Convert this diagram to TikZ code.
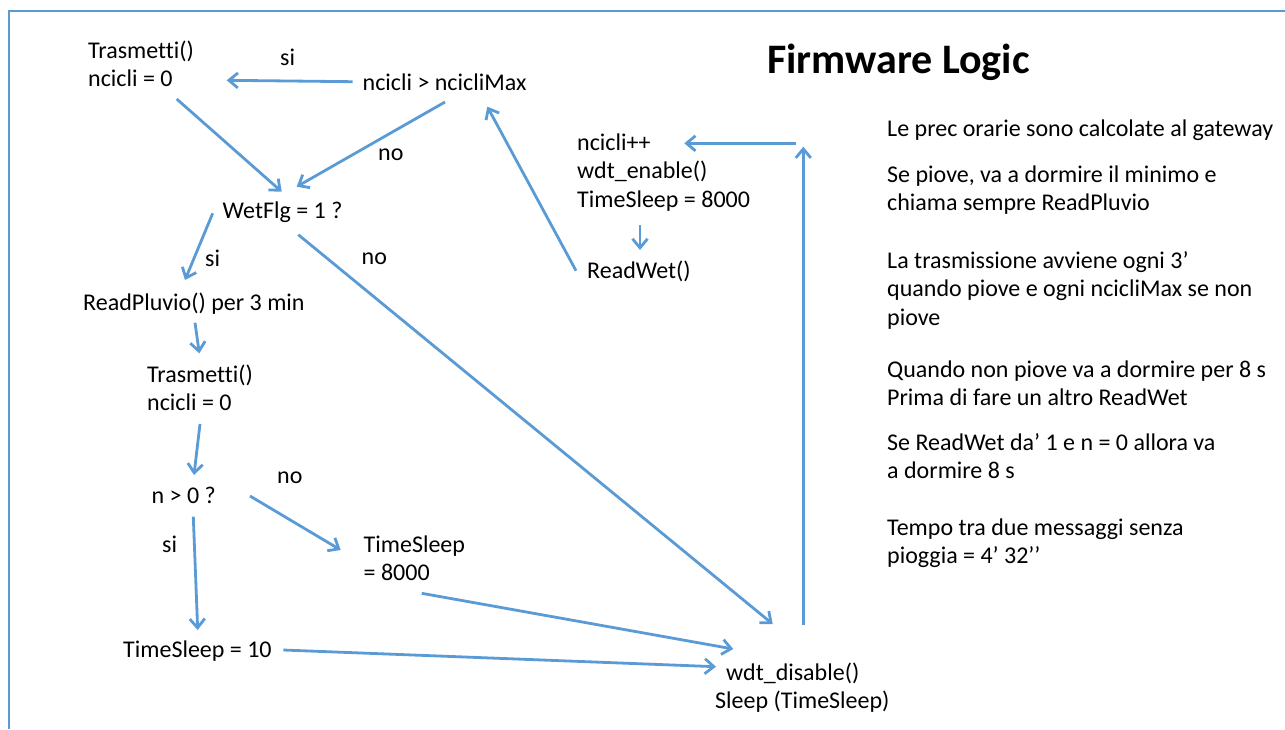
\documentclass[tikz,border=0pt]{standalone}
\usepackage{fontspec}
\setmainfont{Carlito}[Ligatures=CommonOff]
\usetikzlibrary{arrows.meta}

\definecolor{flowblue}{HTML}{5B9BD5}
\newcommand{\txtlines}[1]{\begin{tabular}[t]{@{}l@{}}#1\end{tabular}}

\begin{document}
\begin{tikzpicture}[x=1pt, y=-1pt,
    txt/.style={anchor=base west, inner sep=0pt, text=black,
                font=\fontsize{24}{28.5}\selectfont},
    flow/.style={draw=flowblue, line width=2.8pt,
                 -{Straight Barb[length=9pt,width=15pt]}}]

    \useasboundingbox (0,0) rectangle (1285,729);

    % === FRAME ===
    \draw[flowblue, line width=1.6pt] (9,729) -- (9,11) -- (1285,11);

    % === TITLE ===
    \node[txt, font=\fontsize{42}{50}\selectfont\bfseries] (title) at (767,73) {Firmware Logic};

    % === FLOW NODES ===
    \node[txt] (trasm1) at (88,58)    {\txtlines{Trasmetti()\\ncicli = 0}};
    \node[txt] (cmax)   at (362.5,90) {ncicli > ncicliMax};
    \node[txt] (wet)    at (222.5,218){WetFlg = 1 ?};
    \node[txt] (pluv)   at (83,310)   {ReadPluvio() per 3 min};
    \node[txt] (trasm2) at (147,382)  {\txtlines{Trasmetti()\\ncicli = 0}};
    \node[txt] (npos)   at (151.5,503){n > 0 ?};
    \node[txt] (sleepA) at (363.5,552){\txtlines{TimeSleep\\= 8000}};
    \node[txt] (sleepB) at (123,657)  {TimeSleep = 10};
    \node[txt] (wdtoff) at (715,680)  {\txtlines{\hspace{11pt}wdt\_disable()\\Sleep (TimeSleep)}};
    \node[txt] (wdton)  at (577,150)  {\txtlines{ncicli++\\wdt\_enable()\\TimeSleep = 8000}};
    \node[txt] (rwet)   at (587,278)  {ReadWet()};
    \coordinate (corner) at (803.3,143.3);

    % === BRANCH LABELS ===
    \node[txt] (si1) at (280,65)    {si};
    \node[txt] (no1) at (378,160)   {no};
    \node[txt] (si2) at (205,266)   {si};
    \node[txt] (no2) at (361.5,264) {no};
    \node[txt] (no3) at (277,483)   {no};
    \node[txt] (si3) at (162,552)   {si};

    % === CONNECTORS ===
    \draw[flow] ([shift={(-9.8,-8.3)}]cmax.base west) -- ([shift={(138.7,22.3)}]trasm1.base west);
    \draw[flow] ([shift={(88.7,41)}]trasm1.base west) -- ([shift={(59.2,-26.3)}]wet.base west);
    \draw[flow] ([shift={(82.5,12)}]cmax.base west) -- ([shift={(74.2,-31.3)}]wet.base west);
    \draw[flow] ([shift={(-11,-7.3)}]rwet.base west) -- ([shift={(124.8,16.7)}]cmax.base west);
    \draw[flow] ([shift={(63,75)}]wdton.base west) -- ([shift={(53,-28)}]rwet.base west);
    \draw[flow] ([shift={(88.3,-55)}]wdtoff.base west) -- ([shift={(0,3.4)}]corner);
    \draw[flow] ([shift={(-7.3,0)}]corner) -- ([shift={(107.3,-6.7)}]wdton.base west);
    \draw[flow] ([shift={(75.8,16.7)}]wet.base west) -- ([shift={(57.7,-56)}]wdtoff.base west);
    \draw[flow] ([shift={(-9.8,-4.7)}]wet.base west) -- ([shift={(102,-30)}]pluv.base west);
    \draw[flow] ([shift={(112,12.7)}]pluv.base west) -- ([shift={(52.3,-28.7)}]trasm2.base west);
    \draw[flow] ([shift={(53,42)}]trasm2.base west) -- ([shift={(42.5,-28)}]npos.base west);
    \draw[flow] ([shift={(98.5,-7)}]npos.base west) -- ([shift={(-22.8,-2)}]sleepA.base west);
    \draw[flow] ([shift={(41.8,13.7)}]npos.base west) -- ([shift={(74.7,-27)}]sleepB.base west);
    \draw[flow] ([shift={(58.2,41.3)}]sleepA.base west) -- ([shift={(18.3,-31)}]wdtoff.base west);
    \draw[flow] ([shift={(160.3,-7)}]sleepB.base west) -- ([shift={(1,-13.3)}]wdtoff.base west);

    % === NOTES ===
    \node[txt] (note1) at (887,136) {Le prec orarie sono calcolate al gateway};
    \node[txt] (note2) at (887,182) {\txtlines{Se piove, va a dormire il minimo e\\chiama sempre ReadPluvio}};
    \node[txt] (note3) at (887,268) {\txtlines{La trasmissione avviene ogni 3’\\quando piove e ogni ncicliMax se non\\piove}};
    \node[txt] (note4) at (887,377) {\txtlines{Quando non piove va a dormire per 8 s\\Prima di fare un altro ReadWet}};
    \node[txt] (note5) at (887,450) {\txtlines{Se ReadWet da’ 1 e n = 0 allora va\\a dormire 8 s}};
    \node[txt] (note6) at (887,535) {\txtlines{Tempo tra due messaggi senza\\pioggia = 4’ 32’’}};

\end{tikzpicture}
\end{document}
